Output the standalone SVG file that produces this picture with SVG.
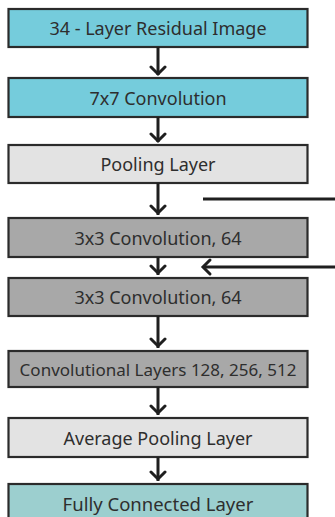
<svg xmlns="http://www.w3.org/2000/svg" width="335" height="517" viewBox="0 0 335 517">
  <style>
    .box { stroke: #2b2b2b; stroke-width: 2.2; }
    .blue { fill: #75CCDC; }
    .light { fill: #E3E3E3; }
    .dark { fill: #A8A8A8; }
    .teal { fill: #9CCFCF; }
    .lbl { font-family: "Noto Sans", "Open Sans", sans-serif; font-size: 18px; fill: #2e2e2e; text-anchor: middle; dominant-baseline: central; }
    .wire { stroke: #1f1f1f; stroke-width: 3; fill: none; }
    .head { stroke: #1f1f1f; stroke-width: 3; fill: none; stroke-linecap: round; stroke-linejoin: miter; }
  </style>
  <rect width="335" height="517" fill="#ffffff"/>

  <g id="n1"><rect class="box blue" x="8.5" y="9" width="299" height="38"/><text class="lbl" x="158" y="28">34 - Layer Residual Image</text></g>
  <g id="n2"><rect class="box blue" x="8.5" y="78" width="299" height="39"/><text class="lbl" x="158" y="97.5">7x7 Convolution</text></g>
  <g id="n3"><rect class="box light" x="8.5" y="145" width="299" height="38"/><text class="lbl" x="158" y="164">Pooling Layer</text></g>
  <g id="n4"><rect class="box dark" x="8.5" y="218" width="299" height="39"/><text class="lbl" x="158" y="237.5">3x3 Convolution, 64</text></g>
  <g id="n5"><rect class="box dark" x="8.5" y="278" width="299" height="38"/><text class="lbl" x="158" y="297">3x3 Convolution, 64</text></g>
  <g id="n6"><rect class="box dark" x="8.5" y="351" width="299" height="36"/><text class="lbl" x="158" y="369" style="font-size:17px">Convolutional Layers 128, 256, 512</text></g>
  <g id="n7"><rect class="box light" x="8.5" y="418" width="299" height="39"/><text class="lbl" x="158" y="437.5">Average Pooling Layer</text></g>
  <g id="n8"><rect class="box teal" x="8.5" y="484" width="299" height="40"/><text class="lbl" x="158" y="503" style="font-size:18.5px">Fully Connected Layer</text></g>

  <g id="connectors">
    <!-- vertical flow arrows -->
    <path class="wire" d="M158 47V75M158 117V142M158 183V215M158 257V275M158 316V348M158 387V415M158 457V481"/>
    <path class="head" d="M151 67L158 74L165 67M151 134L158 141L165 134M151 206L158 213L165 206M151 266L158 273L165 266M151 339L158 346L165 339M151 406L158 413L165 406M151 472L158 479L165 472"/>
    <!-- skip connection -->
    <path class="wire" d="M203 199H335"/>
    <path class="wire" d="M204 267H335"/>
    <path class="head" d="M210 260L203 267L210 274"/>
  </g>
</svg>
